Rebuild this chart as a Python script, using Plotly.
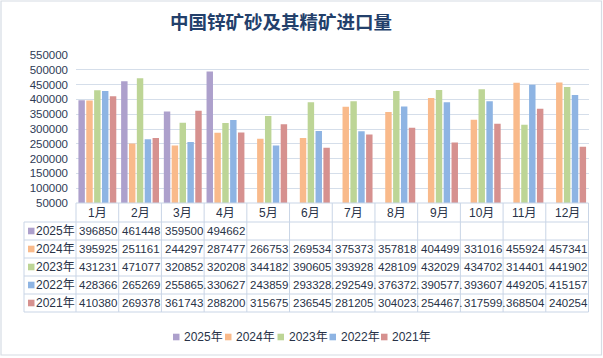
import plotly.graph_objects as go

# ---------------- data ----------------
months = ["1月", "2月", "3月", "4月", "5月", "6月", "7月", "8月", "9月", "10月", "11月", "12月"]
years = ["2025年", "2024年", "2023年", "2022年", "2021年"]

v2025 = [396850, 461448, 359500, 494662, None, None, None, None, None, None, None, None]
v2024 = [395925, 251161, 244297, 287477, 266753, 269534, 375373, 357818, 404499, 331016, 455924, 457341]
v2023 = [431231, 471077, 320852, 320208, 344182, 390605, 393928, 428109, 432029, 434702, 314401, 441902]
v2022 = [428366, 265269, 255865.4, 330627, 243859, 293328.4, 292549.4, 376372.4, 390577.4, 393607, 449205.4, 415157]
v2021 = [410380, 269378, 361743, 288200, 315675, 236545, 281205, 304023.4, 254467.4, 317599.4, 368504, 240254]

series = [v2025, v2024, v2023, v2022, v2021]
colors = ["#ADA0CC", "#F9BA8B", "#BDD596", "#8EB4E3", "#D6918F"]
y_ticks = list(range(50000, 550001, 50000))
title_text = "中国锌矿砂及其精矿进口量"

# ---------------- layout constants (pixels) ----------------
W, H = 603, 358
PX0, PX1 = 76, 588.5
PY_TOP, PY_BOT = 55, 203
ROWS = [203, 222, 240, 258, 276, 294, 312]
TBL_LEFT = 24
GRID = "#D5DEEA"
TXT = "#283247"
FONT = "Liberation Sans, Noto Sans CJK SC, sans-serif"


def px(x):
    return x / W


def py(y):
    return 1 - y / H


def fmt(v):
    if v is None:
        return ""
    if v != int(v):
        return f"{int(v)}."
    return f"{int(v)}"


fig = go.Figure()
for name, vals, col in zip(years, series, colors):
    fig.add_trace(go.Bar(x=months, y=vals, name=name, marker=dict(color=col, line=dict(width=0)),
                         showlegend=False, hoverinfo="skip"))

shapes = []
annotations = []

# table grid
col_w = (PX1 - PX0) / len(months)
edges = [PX0 + k * col_w for k in range(len(months) + 1)]
line_style = dict(color="#C9D5E6", width=1)
shapes.append(dict(type="line", xref="paper", yref="paper", x0=px(PX0), x1=px(PX1),
                   y0=py(ROWS[0]), y1=py(ROWS[0]), line=line_style))
for r in ROWS[1:]:
    shapes.append(dict(type="line", xref="paper", yref="paper", x0=px(TBL_LEFT), x1=px(PX1),
                       y0=py(r), y1=py(r), line=line_style))
shapes.append(dict(type="line", xref="paper", yref="paper", x0=px(TBL_LEFT), x1=px(TBL_LEFT),
                   y0=py(ROWS[1]), y1=py(ROWS[-1]), line=line_style))
for e in edges:
    shapes.append(dict(type="line", xref="paper", yref="paper", x0=px(e), x1=px(e),
                       y0=py(ROWS[0]), y1=py(ROWS[-1]), line=line_style))

# header months
for i, m in enumerate(months):
    annotations.append(dict(x=px((edges[i] + edges[i + 1]) / 2), y=py((ROWS[0] + ROWS[1]) / 2),
                            xref="paper", yref="paper", text=m, showarrow=False,
                            xanchor="center", yanchor="middle",
                            font=dict(family=FONT, size=12, color=TXT)))

# rows
for r, (name, vals, col) in enumerate(zip(years, series, colors)):
    top, bot = ROWS[r + 1], ROWS[r + 2]
    cy = (top + bot) / 2
    shapes.append(dict(type="rect", xref="paper", yref="paper", x0=px(28), x1=px(34.5),
                       y0=py(cy - 3.3), y1=py(cy + 3.3), fillcolor=col, line=dict(width=0)))
    annotations.append(dict(x=px(34), y=py(cy), xref="paper", yref="paper", text=name,
                            showarrow=False, xanchor="left", yanchor="middle",
                            font=dict(family=FONT, size=12, color=TXT)))
    for i, v in enumerate(vals):
        t = fmt(v)
        if t:
            annotations.append(dict(x=px(edges[i] + 1.2), y=py(cy), xref="paper", yref="paper",
                                    text=t, showarrow=False, xanchor="left", yanchor="middle",
                                    font=dict(family=FONT, size=11.5, color=TXT)))

# legend
leg_x = [173, 225, 277.5, 329.5, 381]
leg_y = 337
for x0, name, col in zip(leg_x, years, colors):
    shapes.append(dict(type="rect", xref="paper", yref="paper", x0=px(x0), x1=px(x0 + 6.5),
                       y0=py(leg_y - 3.3), y1=py(leg_y + 3.3), fillcolor=col, line=dict(width=0)))
    annotations.append(dict(x=px(x0 + 9), y=py(leg_y), xref="paper", yref="paper", text=name,
                            showarrow=False, xanchor="left", yanchor="middle",
                            font=dict(family=FONT, size=12, color=TXT)))

# chart border
shapes.append(dict(type="rect", xref="paper", yref="paper", x0=px(1), x1=px(601.5),
                   y0=py(355), y1=py(1), line=dict(color="#D6DCE4", width=1.2)))

fig.update_layout(
    width=W, height=H,
    margin=dict(l=0, r=0, t=0, b=0, autoexpand=False),
    paper_bgcolor="white", plot_bgcolor="white",
    barmode="group", bargap=0.08, bargroupgap=0.18,
    title=dict(text=title_text, x=px(281), y=py(22.5), xanchor="center", yanchor="middle",
               xref="paper", yref="paper",
               font=dict(family="Noto Sans CJK SC, sans-serif", size=18.5, color="#23406B", weight="bold")),
    xaxis=dict(domain=[px(PX0), px(PX1)], showticklabels=False, showgrid=False, zeroline=False,
               showline=False, ticks=""),
    yaxis=dict(domain=[py(PY_BOT), py(PY_TOP)], range=[50000, 550000], tickvals=y_ticks,
               ticktext=[str(v) for v in y_ticks], showgrid=True, gridcolor=GRID, gridwidth=1,
               zeroline=False, showline=False, ticks="", ticklabelstandoff=7,
               tickfont=dict(family=FONT, size=11.5, color="#2E3A55")),
    shapes=shapes, annotations=annotations,
)

fig.write_html("out.html", config={"displayModeBar": False},
               post_script="document.body.style.margin='0';document.body.style.overflow='hidden';")
